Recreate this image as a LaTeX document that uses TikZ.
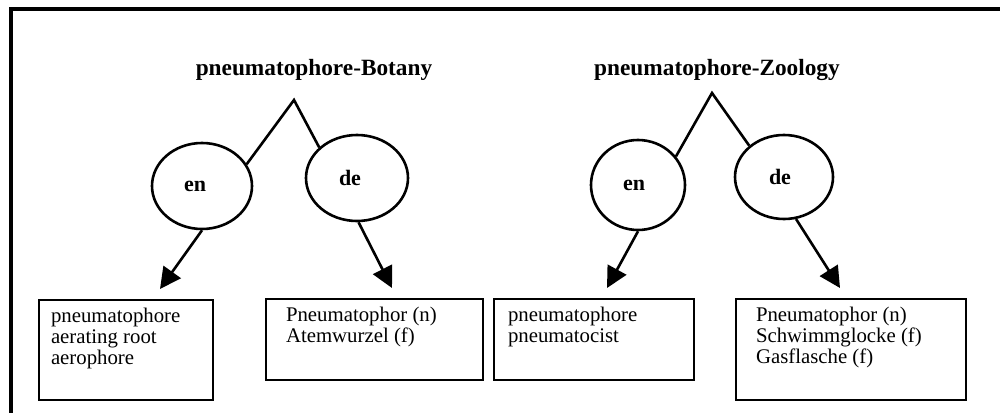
\documentclass[tikz,border=0pt]{standalone}
\usepackage{fontspec}
\setmainfont{Liberation Serif}
\usetikzlibrary{shapes.geometric,arrows.meta}
\begin{document}
\begin{tikzpicture}[x=1pt,y=-1pt,
  langnode/.style={ellipse,draw,line width=2.6pt,inner sep=0pt,font=\fontsize{22}{24}\selectfont\bfseries},
  title/.style={font=\fontsize{23.3}{26}\selectfont\bfseries,anchor=base,inner sep=0pt},
  termbox/.style={draw,line width=2pt,inner ysep=8pt,font=\fontsize{20.8}{21}\selectfont,anchor=north west},
  link/.style={line width=2.6pt},
  pointer/.style={line width=2.6pt,-{Triangle[length=21pt,width=21pt]}},
  frame/.style={line width=3.5pt}]
\useasboundingbox (0,0) rectangle (1000,412);
% frame
\coordinate (fb) at (11,414);
\coordinate (fc) at (11,9);
\coordinate (fr) at (1002,9);
\draw[frame] (fb) -- (fc) -- (fr);
% titles
\node[title] (t1) at (314,75) {pneumatophore-Botany};
\node[title] (t2) at (717,75) {pneumatophore-Zoology};
% language nodes
\node[langnode,minimum width=100pt,minimum height=86pt] (en1) at (202,186) {\hspace*{-14pt}en};
\node[langnode,minimum width=102pt,minimum height=86pt] (de1) at (357,178) {\hspace*{-14pt}de};
\node[langnode,minimum width=94pt,minimum height=90pt] (en2) at (638,185) {\hspace*{-8pt}en};
\node[langnode,minimum width=98pt,minimum height=84pt] (de2) at (784,177) {\hspace*{-8pt}de};
% peaks
\coordinate (p1) at (294,100);
\coordinate (p2) at (712,93);
\draw[link] (en1.26) -- (p1) -- (de1.141);
\draw[link] (en2.37) -- (p2) -- (de2.138);
% boxes
\node[termbox,inner xsep=12pt] (b1) at (38,299) {\parbox[c][84pt][t]{150pt}{\raggedright\strut pneumatophore\\aerating root\\aerophore}};
\node[termbox,inner xsep=20pt] (b2) at (265,298) {\parbox[c][65pt][t]{177pt}{\raggedright\strut Pneumatophor (n)\\Atemwurzel (f)}};
\node[termbox,inner xsep=14pt] (b3) at (493,298) {\parbox[c][65pt][t]{172pt}{\raggedright\strut pneumatophore\\pneumatocist}};
\node[termbox,inner xsep=20pt] (b4) at (735,298) {\parbox[c][85pt][t]{190pt}{\raggedright\strut Pneumatophor (n)\\Schwimmglocke (f)\\Gasflasche (f)}};
% arrow tips
\coordinate (a1) at (160,289);
\coordinate (a2) at (392,288);
\coordinate (a3) at (607,288);
\coordinate (a4) at (840,288);
\draw[pointer] (en1.south) -- (a1);
\draw[pointer] (de1.-88) -- (a2);
\draw[pointer] (en2.south) -- (a3);
\draw[pointer] (de2.-74) -- (a4);
\end{tikzpicture}
\end{document}
